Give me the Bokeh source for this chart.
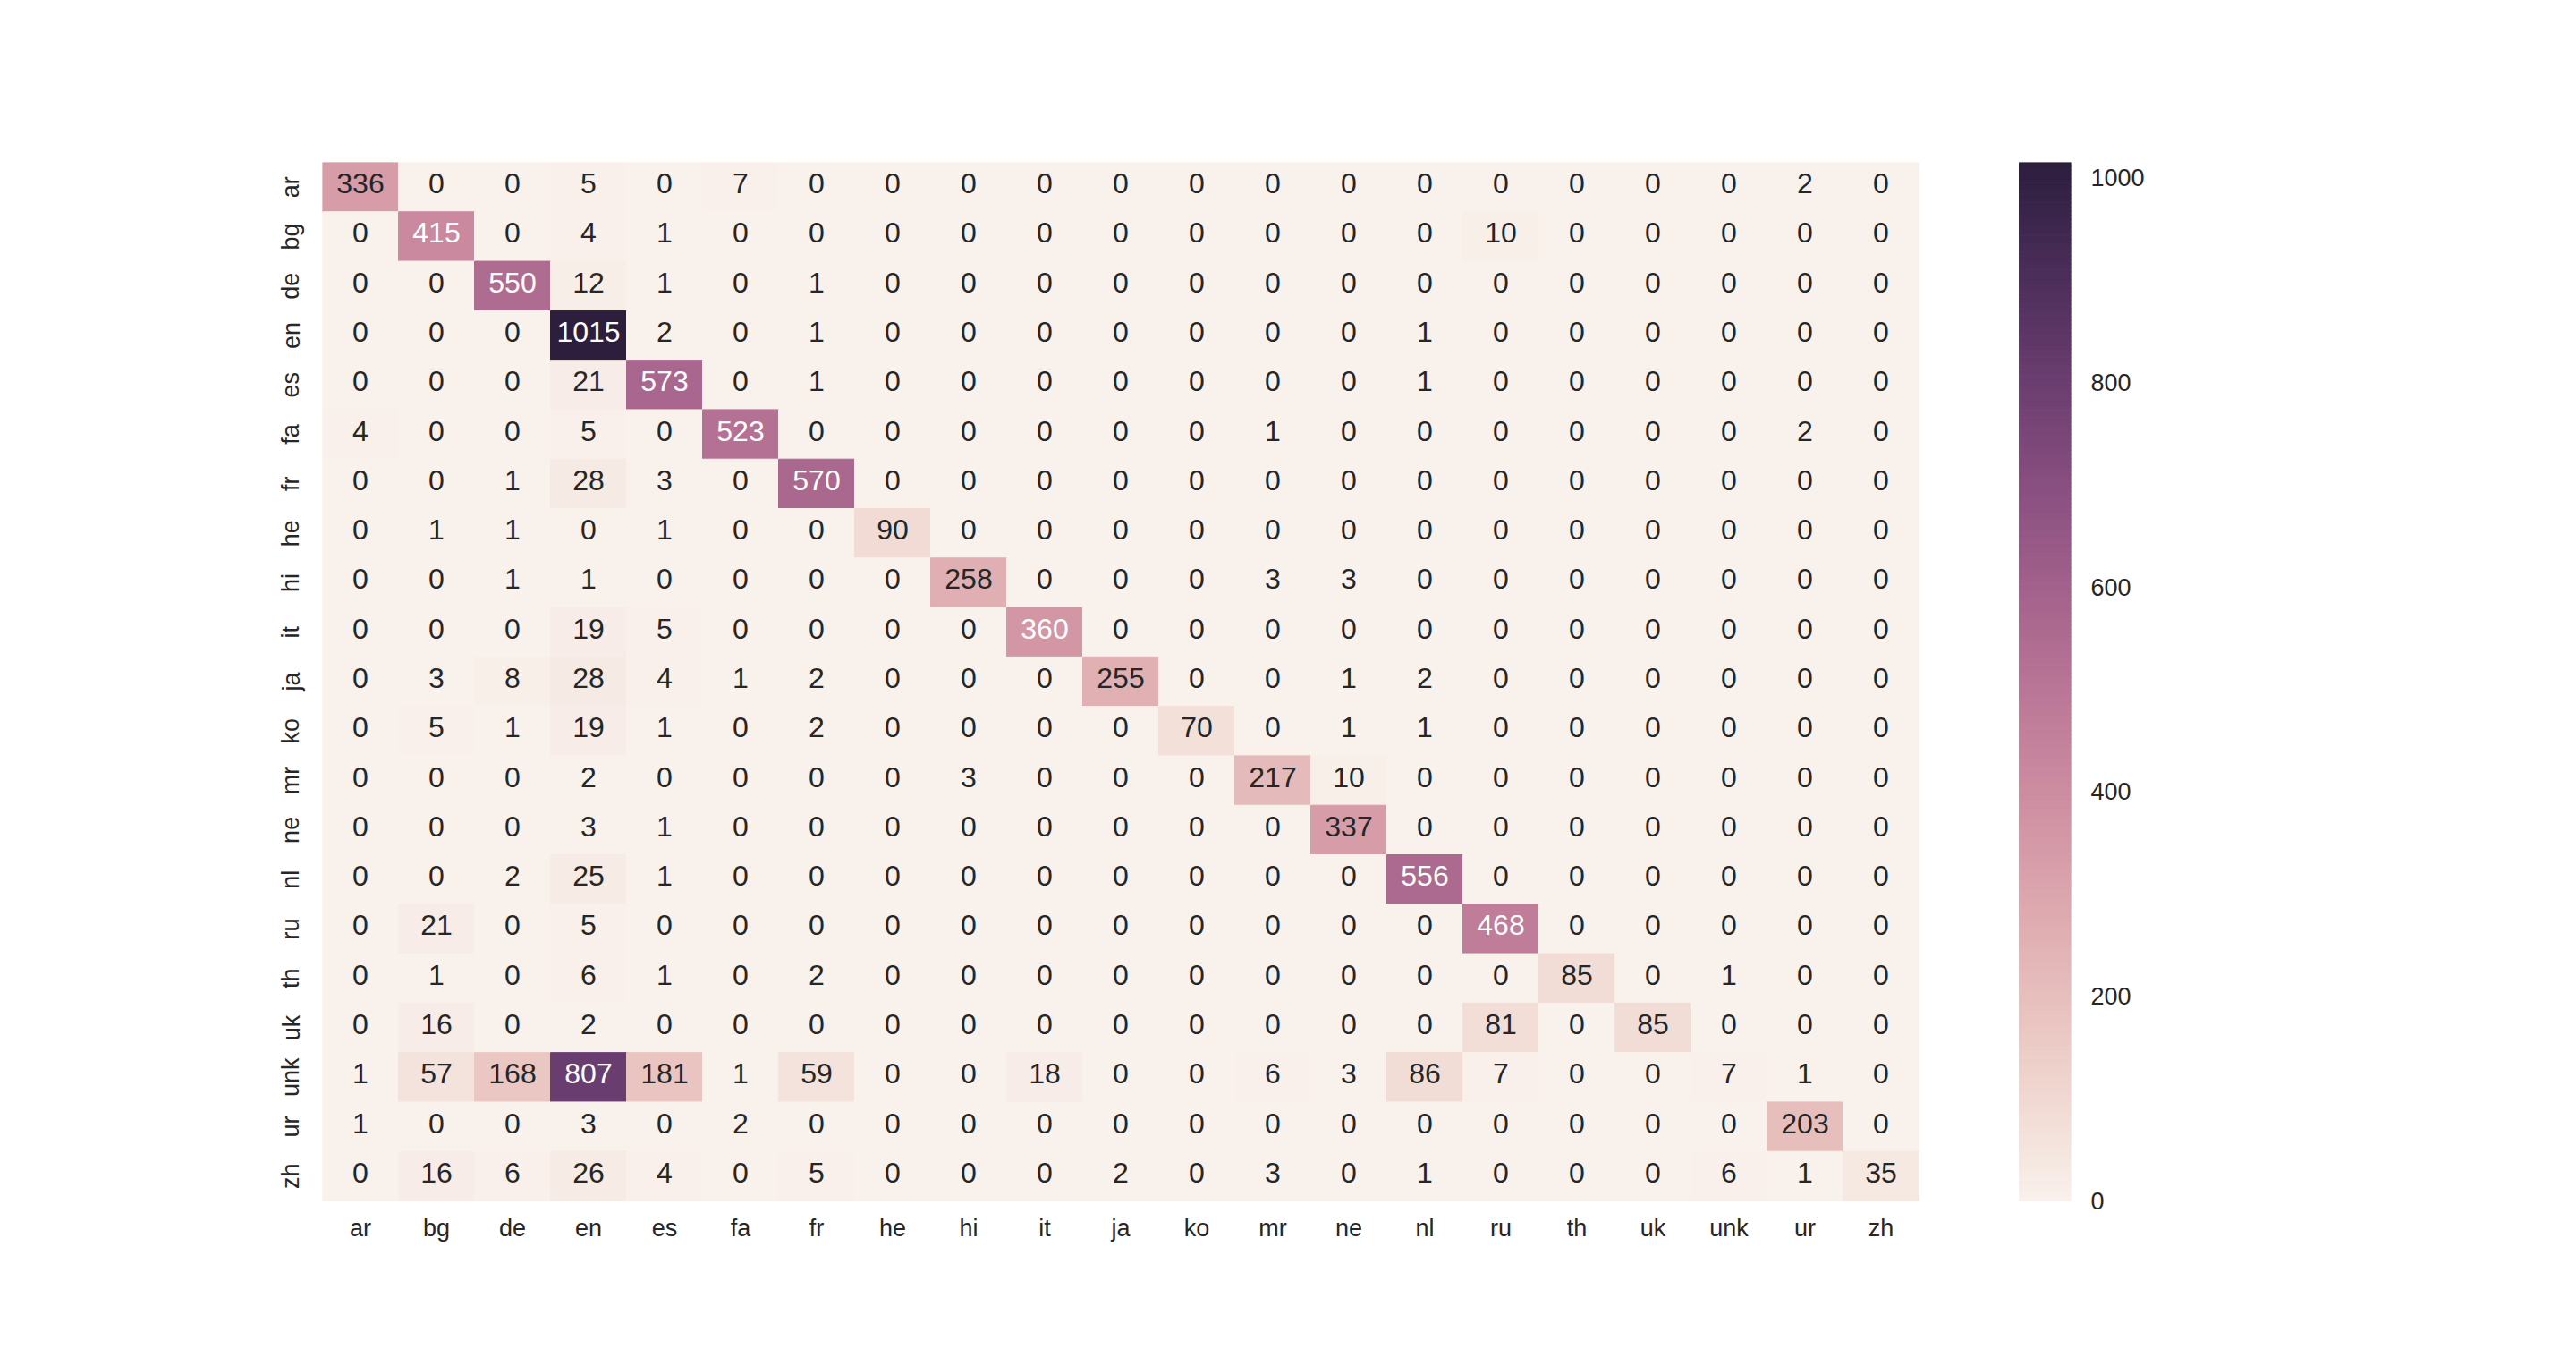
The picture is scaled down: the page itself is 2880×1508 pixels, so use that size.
import math
import numpy as np
from bokeh.plotting import figure
from bokeh.models import (ColumnDataSource, Range1d, LinearAxis, FixedTicker)
from bokeh.core.properties import value
from bokeh.embed import file_html
from bokeh.resources import INLINE

# ---------------- data ----------------
labels = ["ar", "bg", "de", "en", "es", "fa", "fr", "he", "hi", "it", "ja",
          "ko", "mr", "ne", "nl", "ru", "th", "uk", "unk", "ur", "zh"]

row_ar  = [336, 0, 0, 5, 0, 7, 0, 0, 0, 0, 0, 0, 0, 0, 0, 0, 0, 0, 0, 2, 0]
row_bg  = [0, 415, 0, 4, 1, 0, 0, 0, 0, 0, 0, 0, 0, 0, 0, 10, 0, 0, 0, 0, 0]
row_de  = [0, 0, 550, 12, 1, 0, 1, 0, 0, 0, 0, 0, 0, 0, 0, 0, 0, 0, 0, 0, 0]
row_en  = [0, 0, 0, 1015, 2, 0, 1, 0, 0, 0, 0, 0, 0, 0, 1, 0, 0, 0, 0, 0, 0]
row_es  = [0, 0, 0, 21, 573, 0, 1, 0, 0, 0, 0, 0, 0, 0, 1, 0, 0, 0, 0, 0, 0]
row_fa  = [4, 0, 0, 5, 0, 523, 0, 0, 0, 0, 0, 0, 1, 0, 0, 0, 0, 0, 0, 2, 0]
row_fr  = [0, 0, 1, 28, 3, 0, 570, 0, 0, 0, 0, 0, 0, 0, 0, 0, 0, 0, 0, 0, 0]
row_he  = [0, 1, 1, 0, 1, 0, 0, 90, 0, 0, 0, 0, 0, 0, 0, 0, 0, 0, 0, 0, 0]
row_hi  = [0, 0, 1, 1, 0, 0, 0, 0, 258, 0, 0, 0, 3, 3, 0, 0, 0, 0, 0, 0, 0]
row_it  = [0, 0, 0, 19, 5, 0, 0, 0, 0, 360, 0, 0, 0, 0, 0, 0, 0, 0, 0, 0, 0]
row_ja  = [0, 3, 8, 28, 4, 1, 2, 0, 0, 0, 255, 0, 0, 1, 2, 0, 0, 0, 0, 0, 0]
row_ko  = [0, 5, 1, 19, 1, 0, 2, 0, 0, 0, 0, 70, 0, 1, 1, 0, 0, 0, 0, 0, 0]
row_mr  = [0, 0, 0, 2, 0, 0, 0, 0, 3, 0, 0, 0, 217, 10, 0, 0, 0, 0, 0, 0, 0]
row_ne  = [0, 0, 0, 3, 1, 0, 0, 0, 0, 0, 0, 0, 0, 337, 0, 0, 0, 0, 0, 0, 0]
row_nl  = [0, 0, 2, 25, 1, 0, 0, 0, 0, 0, 0, 0, 0, 0, 556, 0, 0, 0, 0, 0, 0]
row_ru  = [0, 21, 0, 5, 0, 0, 0, 0, 0, 0, 0, 0, 0, 0, 0, 468, 0, 0, 0, 0, 0]
row_th  = [0, 1, 0, 6, 1, 0, 2, 0, 0, 0, 0, 0, 0, 0, 0, 0, 85, 0, 1, 0, 0]
row_uk  = [0, 16, 0, 2, 0, 0, 0, 0, 0, 0, 0, 0, 0, 0, 0, 81, 0, 85, 0, 0, 0]
row_unk = [1, 57, 168, 807, 181, 1, 59, 0, 0, 18, 0, 0, 6, 3, 86, 7, 0, 0, 7, 1, 0]
row_ur  = [1, 0, 0, 3, 0, 2, 0, 0, 0, 0, 0, 0, 0, 0, 0, 0, 0, 0, 0, 203, 0]
row_zh  = [0, 16, 6, 26, 4, 0, 5, 0, 0, 0, 2, 0, 3, 0, 1, 0, 0, 0, 6, 1, 35]

rows = [row_ar, row_bg, row_de, row_en, row_es, row_fa, row_fr, row_he, row_hi,
        row_it, row_ja, row_ko, row_mr, row_ne, row_nl, row_ru, row_th, row_uk,
        row_unk, row_ur, row_zh]

cbar_ticks = [0, 200, 400, 600, 800, 1000]

# ---------------- colormap (seaborn cubehelix_palette(light=.95)) ----------------
def cubehelix_rgb(x, gamma=1.0, s=0.0, r=0.4, h=0.8):
    xg = x ** gamma
    a = h * xg * (1 - xg) / 2
    phi = 2 * math.pi * (s / 3 + r * x)
    cr = xg + a * (-0.14861 * math.cos(phi) + 1.78277 * math.sin(phi))
    cg = xg + a * (-0.29227 * math.cos(phi) - 0.90649 * math.sin(phi))
    cb = xg + a * (1.97294 * math.cos(phi))
    return tuple(min(max(c, 0.0), 1.0) for c in (cr, cg, cb))

N = 256
pal_rgb = []
for xv in np.linspace(0.95, 0.15, N):
    idx = min(int(xv * N), N - 1)
    pal_rgb.append(cubehelix_rgb(idx / (N - 1)))

def to_hex(c):
    return "#%02x%02x%02x" % tuple(int(round(v * 255)) for v in c)

pal_hex = [to_hex(c) for c in pal_rgb]

def rel_lum(c):
    lin = [v / 12.92 if v <= 0.03928 else ((v + 0.055) / 1.055) ** 2.4 for v in c]
    return 0.2126 * lin[0] + 0.7152 * lin[1] + 0.0722 * lin[2]

vmax = max(max(r) for r in rows)

xs, ys, cols, txt, tcol = [], [], [], [], []
for i, r in enumerate(rows):
    for j, v in enumerate(r):
        k = min(int(v / vmax * N), N - 1)
        c = pal_rgb[k]
        xs.append(j + 0.5)
        ys.append(i + 0.5)
        cols.append(pal_hex[k])
        txt.append(str(v))
        tcol.append("#262626" if rel_lum(c) > 0.408 else "#ffffff")

src = ColumnDataSource(dict(x=xs, y=ys, c=cols, t=txt, tc=tcol))

# ---------------- layout ----------------
W, H = 2880, 1508
cell_w = 85.0
left, top = 360, 181
frame_w = 1955
frame_h = 1161
ncat = len(labels)
x_end = frame_w / cell_w
cb_x0 = (2257 - left) / cell_w

p = figure(width=W, height=H, output_backend="svg", toolbar_location=None,
           x_range=Range1d(0, x_end), y_range=Range1d(ncat, 0),
           min_border_left=left, min_border_top=top,
           min_border_right=W - left - frame_w,
           min_border_bottom=H - top - frame_h,
           x_axis_location="below", y_axis_location="left")
p.outline_line_color = None
p.grid.visible = False
p.background_fill_color = "white"
p.border_fill_color = "white"

p.rect("x", "y", width=1, height=1, source=src, fill_color="c",
       line_color="c", line_width=1)
p.text("x", "y", text="t", source=src, text_color="tc",
       text_font=value("Liberation Sans"), text_font_size="32px",
       text_align="center", text_baseline="middle", y_offset=-4)

# colour bar drawn on extra ranges
p.extra_y_ranges = {"cb": Range1d(0, vmax)}
cb_src = ColumnDataSource(dict(
    bottom=[k * vmax / N for k in range(N)],
    top=[(k + 1) * vmax / N for k in range(N)],
    c=pal_hex))
p.quad(left=cb_x0, right=x_end, bottom="bottom", top="top", source=cb_src,
       fill_color="c", line_color="c", line_width=1, y_range_name="cb")

tick_pos = [i + 0.5 for i in range(ncat)]
overrides = {i + 0.5: lab for i, lab in enumerate(labels)}

def style_axis(ax):
    ax.axis_line_color = None
    ax.major_tick_line_color = None
    ax.minor_tick_line_color = None
    ax.major_tick_out = 0
    ax.major_tick_in = 0
    ax.minor_tick_out = 0
    ax.major_label_text_font = "Liberation Sans"
    ax.major_label_text_font_size = "27px"
    ax.major_label_text_color = "#262626"

xa = p.xaxis[0]
xa.ticker = FixedTicker(ticks=tick_pos)
xa.major_label_overrides = overrides
style_axis(xa)
xa.major_label_standoff = 15

ya = p.yaxis[0]
ya.ticker = FixedTicker(ticks=tick_pos)
ya.major_label_overrides = overrides
ya.major_label_orientation = "vertical"
style_axis(ya)
ya.major_label_standoff = 20

ra = LinearAxis(y_range_name="cb", ticker=FixedTicker(ticks=cbar_ticks))
style_axis(ra)
ra.major_label_standoff = 22
p.add_layout(ra, "right")

open("out.html", "w").write(file_html(p, INLINE))
